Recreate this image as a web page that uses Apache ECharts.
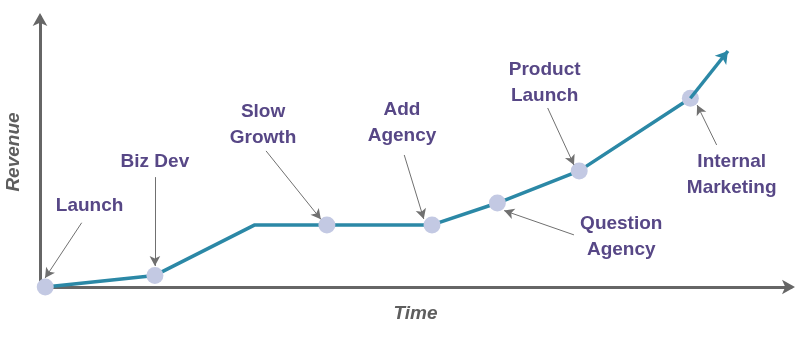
<!DOCTYPE html>
<html>
<head>
<meta charset="utf-8">
<script src="https://cdn.jsdelivr.net/npm/echarts@6/dist/echarts.min.js"></script>
<style>
  html, body { margin: 0; padding: 0; background: #fff; }
  #chart { width: 800px; height: 340px; }
</style>
</head>
<body>
<div id="chart"></div>
<script>
// Revenue trajectory of a business over time (arbitrary units, 0–100 on both axes)
const milestones = ['Launch', 'Biz Dev', '', 'Slow Growth', 'Add Agency', 'Question Agency', 'Product Launch', 'Internal Marketing'];
const timeValues = [0.7, 15.3, 28.6, 38.2, 52.2, 60.9, 71.8, 86.6];
const revenueValues = [0, 4.3, 23.0, 23.0, 23.0, 31.1, 43.0, 69.9];
// where the trend keeps heading after the last milestone
const trendTime = 91.6;
const trendRevenue = 87.4;

// callout layout, in axis units: label centre, arrow tail, arrow head
const calloutText = ['Launch', 'Biz Dev', 'Slow\nGrowth', 'Add\nAgency', 'Question\nAgency', 'Product\nLaunch', 'Internal\nMarketing'];
const calloutLabelAt = [[6.6, 30.0], [15.3, 46.5], [29.7, 60.0], [48.2, 60.7], [77.4, 18.5], [67.2, 75.6], [92.1, 41.5]];
const calloutTail = [[5.55, 23.8], [15.3, 40.7], [30.1, 50.4], [48.5, 48.9], [71.1, 19.3], [67.6, 66.3], [90.1, 52.6]];
const calloutHead = [[0.67, 3.3], [15.3, 7.8], [37.4, 25.1], [51.1, 25.2], [61.8, 28.3], [71.1, 45.2], [87.5, 67.4]];

const AXIS_GREY = '#666666';
const LINE_TEAL = '#2b88a6';
const DOT_FILL = '#c3c9e3';
const LABEL_PURPLE = '#574786';

const pathData = timeValues.map((t, i) => ({
  value: [t, revenueValues[i]],
  name: milestones[i],
  symbol: milestones[i] ? 'circle' : 'none'
}));

const axisCommon = {
  type: 'value',
  min: 0,
  max: 100,
  axisLine: {
    show: true,
    symbol: ['none', 'arrow'],
    symbolSize: [11, 13],
    symbolOffset: [0, 4],
    lineStyle: { color: AXIS_GREY, width: 3 }
  },
  axisTick: { show: false },
  axisLabel: { show: false },
  splitLine: { show: false },
  nameTextStyle: {
    fontFamily: 'Liberation Sans',
    fontWeight: 'bold',
    fontStyle: 'italic',
    fontSize: 19,
    color: '#5e5e5e'
  }
};

const chart = echarts.init(document.getElementById('chart'), null, { renderer: 'canvas' });
chart.setOption({
  animation: false,
  grid: { left: 40, right: 9, top: 17, bottom: 53, containLabel: false, outerBoundsMode: 'none' },
  xAxis: Object.assign({}, axisCommon, {
    name: 'Time',
    nameLocation: 'middle',
    nameGap: 17
  }),
  yAxis: Object.assign({}, axisCommon, {
    name: 'Revenue',
    nameLocation: 'middle',
    nameRotate: 90,
    nameGap: 17
  }),
  series: [
    {
      // callout texts with their pointer arrows
      type: 'scatter',
      silent: true,
      z: 1,
      symbolSize: 0,
      itemStyle: { opacity: 1 },
      data: calloutText.map((txt, i) => ({ value: calloutLabelAt[i], name: txt })),
      label: {
        show: true,
        position: 'inside',
        formatter: p => p.name,
        fontFamily: 'Liberation Sans',
        fontWeight: 'bold',
        fontSize: 19,
        lineHeight: 26,
        color: LABEL_PURPLE,
        opacity: 1,
        align: 'center'
      },
      markLine: {
        silent: true,
        symbol: ['none', 'arrow'],
        symbolSize: [8, 10],
        label: { show: false },
        lineStyle: { color: '#707070', width: 1, type: 'solid' },
        emphasis: { disabled: true },
        data: calloutTail.map((from, i) => [{ coord: from }, { coord: calloutHead[i] }])
      }
    },
    {
      type: 'line',
      z: 3,
      clip: false,
      data: pathData,
      symbolSize: 17,
      lineStyle: { color: LINE_TEAL, width: 3.5 },
      itemStyle: { color: DOT_FILL, borderWidth: 0 },
      emphasis: { disabled: true },
      markLine: {
        silent: true,
        symbol: ['none', 'arrow'],
        symbolSize: [11, 12],
        label: { show: false },
        lineStyle: { color: LINE_TEAL, width: 3.5, type: 'solid' },
        emphasis: { disabled: true },
        data: [[
          { coord: [timeValues[timeValues.length - 1], revenueValues[revenueValues.length - 1]] },
          { coord: [trendTime, trendRevenue] }
        ]]
      }
    }
  ]
});
</script>
</body>
</html>
